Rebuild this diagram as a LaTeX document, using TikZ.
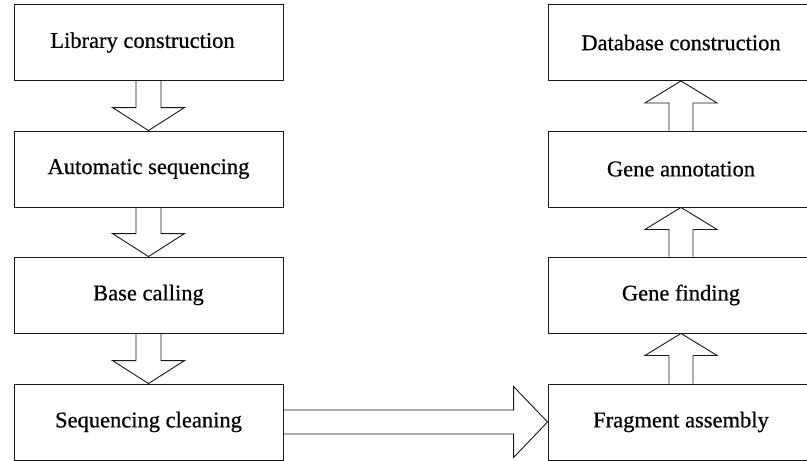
\documentclass[tikz,border=0pt]{standalone}
\usepackage{fontspec}
\setmainfont{Liberation Serif}[FakeBold=0.6]
\usetikzlibrary{calc}

\tikzset{
  stage/.style={draw=black!90, line width=0.9pt, fill=white, inner sep=0pt,
    minimum height=76pt, font=\fontsize{22.5}{26}\selectfont},
  leftstage/.style={stage, minimum width=269pt},
  rightstage/.style={stage, minimum width=266pt},
  blk/.style={draw=black!90, line width=0.9pt, line join=miter}
}

% hollow block arrow pointing down from #1 to #2
\newcommand\blkdown[2]{%
  \draw[blk] ($(#1.south)+(-12.5,0)$) -- ($(#2.north)+(-12.5,-23)$)
    -- ($(#2.north)+(-36,-23)$) -- (#2.north) -- ($(#2.north)+(36,-23)$)
    -- ($(#2.north)+(12.5,-23)$) -- ($(#1.south)+(12.5,0)$);}
% hollow block arrow pointing up from #1 to #2
\newcommand\blkup[2]{%
  \draw[blk] ($(#1.north)+(-12,0)$) -- ($(#2.south)+(-12,22)$)
    -- ($(#2.south)+(-36,22)$) -- (#2.south) -- ($(#2.south)+(36,22)$)
    -- ($(#2.south)+(12,22)$) -- ($(#1.north)+(12,0)$);}
% hollow block arrow pointing right from #1 to #2
\newcommand\blkright[2]{%
  \draw[blk] ($(#1.east)+(0,-12)$) -- ($(#2.west)+(-34,-12)$)
    -- ($(#2.west)+(-34,-35.5)$) -- (#2.west) -- ($(#2.west)+(-34,35.5)$)
    -- ($(#2.west)+(-34,12)$) -- ($(#1.east)+(0,12)$);}

\begin{document}
\begin{tikzpicture}[x=1pt,y=-1pt]
  \useasboundingbox (0,0) rectangle (807,461);
  \fill[white] (0,0) rectangle (807,461);

  % left column
  \node[leftstage] (lib)  at (148.5,42.5) {Library construction\hspace*{12pt}};
  \node[leftstage] (auto) at (148.5,169)  {Automatic sequencing};
  \node[leftstage] (base) at (148.5,295)  {Base calling};
  \node[leftstage] (clean) at (148.5,422) {Sequencing cleaning};

  % right column
  \node[rightstage] (db)    at (681,42.5) {Database construction};
  \node[rightstage] (annot) at (681,169)  {Gene annotation};
  \node[rightstage] (find)  at (681,295)  {Gene finding};
  \node[rightstage] (frag)  at (681,422)  {Fragment assembly};

  % connectors
  \blkdown{lib}{auto}
  \blkdown{auto}{base}
  \blkdown{base}{clean}
  \blkright{clean}{frag}
  \blkup{frag}{find}
  \blkup{find}{annot}
  \blkup{annot}{db}
\end{tikzpicture}
\end{document}
